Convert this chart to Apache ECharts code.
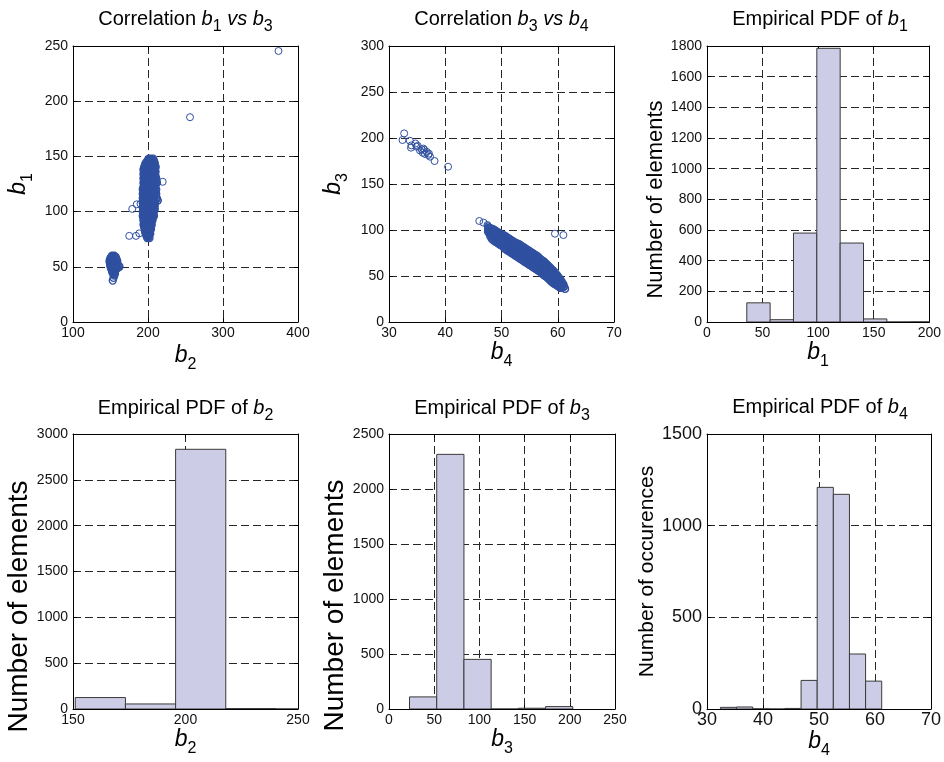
<!DOCTYPE html>
<html><head><meta charset="utf-8">
<script src="https://cdn.jsdelivr.net/npm/echarts@6/dist/echarts.min.js"></script>
<style>html,body{margin:0;padding:0;background:#fff}#c{width:944px;height:762px}</style>
</head><body><div id="c"></div>
<script>
// ---------- tick labels ----------
const ticksP1x = [100, 200, 300, 400];
const ticksP1y = [0, 50, 100, 150, 200, 250];
const ticksP2x = [30, 40, 50, 60, 70];
const ticksP2y = [0, 50, 100, 150, 200, 250, 300];
const ticksP3x = [0, 50, 100, 150, 200];
const ticksP3y = [0, 200, 400, 600, 800, 1000, 1200, 1400, 1600, 1800];
const ticksP4x = [150, 200, 250];
const ticksP4y = [0, 500, 1000, 1500, 2000, 2500, 3000];
const ticksP5x = [0, 50, 100, 150, 200, 250];
const ticksP5y = [0, 500, 1000, 1500, 2000, 2500];
const ticksP6x = [30, 40, 50, 60, 70];
const ticksP6y = [0, 500, 1000, 1500];

// ---------- scatter b2 (x) vs b1 (y): rows [b1, [b2 values]] ----------
const b1b2CoreRows = [
  [148, [201, 204, 207]],
  [146, [199, 202, 205, 208]],
  [144, [197, 200, 203, 206, 209]],
  [142, [196, 199, 202, 205, 208]],
  [140, [195, 198, 201, 204, 207, 210]],
  [138, [194, 197, 200, 203, 206, 209]],
  [136, [195, 198, 201, 204, 207, 210]],
  [134, [194, 197, 200, 203, 206, 209]],
  [132, [195, 198, 201, 204, 207, 210]],
  [130, [194, 197, 200, 203, 206, 209, 211]],
  [128, [195, 198, 201, 204, 207, 210]],
  [126, [194, 197, 200, 203, 206, 209, 212]],
  [124, [195, 198, 201, 204, 207, 210]],
  [122, [194, 197, 200, 203, 206, 209]],
  [120, [193, 196, 199, 202, 205, 208, 211]],
  [118, [194, 197, 200, 203, 206, 209]],
  [116, [193, 196, 199, 202, 205, 208, 211]],
  [114, [194, 197, 200, 203, 206, 209]],
  [112, [193, 196, 199, 202, 205, 208, 212]],
  [110, [194, 197, 200, 203, 206, 209, 213]],
  [108, [193, 196, 199, 202, 205, 208]],
  [106, [194, 197, 200, 203, 206, 209]],
  [104, [193, 196, 199, 202, 205, 208]],
  [102, [194, 197, 200, 203, 206, 209]],
  [100, [193, 196, 199, 202, 205, 208]],
  [98, [194, 197, 200, 203, 206]],
  [96, [193, 196, 199, 202, 205, 208]],
  [94, [194, 197, 200, 203, 206]],
  [92, [194, 197, 200, 203, 206]],
  [90, [195, 198, 201, 204]],
  [88, [194, 197, 200, 203, 205]],
  [86, [195, 198, 201, 204]],
  [84, [196, 199, 202, 204]],
  [82, [196, 199, 202]],
  [80, [197, 200, 203]],
  [78, [198, 201]],
  [76, [199, 202]]
];
const b1b2CoreRowsB = [
  [147, [200.5, 203.5, 206.5]],
  [145, [198.5, 201.5, 204.5, 207.5]],
  [143, [196.5, 199.5, 202.5, 205.5, 208.5]],
  [141, [195.5, 198.5, 201.5, 204.5, 207.5, 210]],
  [139, [194.5, 197.5, 200.5, 203.5, 206.5, 209.5]],
  [137, [194.5, 197.5, 200.5, 203.5, 206.5, 209.5]],
  [135, [194.5, 197.5, 200.5, 203.5, 206.5, 209.5]],
  [133, [194.5, 197.5, 200.5, 203.5, 206.5, 209.5]],
  [131, [194.5, 197.5, 200.5, 203.5, 206.5, 209.5]],
  [129, [194.5, 197.5, 200.5, 203.5, 206.5, 209.5]],
  [127, [194.5, 197.5, 200.5, 203.5, 206.5, 209.5, 211.5]],
  [125, [194.5, 197.5, 200.5, 203.5, 206.5, 209.5]],
  [123, [194.5, 197.5, 200.5, 203.5, 206.5, 209.5]],
  [121, [193.5, 196.5, 199.5, 202.5, 205.5, 208.5]],
  [119, [193.5, 196.5, 199.5, 202.5, 205.5, 208.5, 210.5]],
  [117, [193.5, 196.5, 199.5, 202.5, 205.5, 208.5]],
  [115, [193.5, 196.5, 199.5, 202.5, 205.5, 208.5, 210.5]],
  [113, [193.5, 196.5, 199.5, 202.5, 205.5, 208.5]],
  [111, [193.5, 196.5, 199.5, 202.5, 205.5, 208.5, 211]],
  [109, [193.5, 196.5, 199.5, 202.5, 205.5, 208.5]],
  [107, [193.5, 196.5, 199.5, 202.5, 205.5, 208.5]],
  [105, [193.5, 196.5, 199.5, 202.5, 205.5, 208.5]],
  [103, [193.5, 196.5, 199.5, 202.5, 205.5, 208.5]],
  [101, [193.5, 196.5, 199.5, 202.5, 205.5, 208]],
  [99, [193.5, 196.5, 199.5, 202.5, 205.5]],
  [97, [193.5, 196.5, 199.5, 202.5, 205.5, 207]],
  [95, [194.5, 197.5, 200.5, 203.5, 206]],
  [93, [194.5, 197.5, 200.5, 203.5, 205.5]],
  [91, [194.5, 197.5, 200.5, 203.5, 205]],
  [89, [194.5, 197.5, 200.5, 203.5]],
  [87, [195.5, 198.5, 201.5, 204]],
  [85, [195.5, 198.5, 201.5, 203.5]],
  [83, [196.5, 199.5, 202.5]],
  [81, [197, 200, 202.5]],
  [79, [198, 200.5, 202]],
  [77, [199.5, 201]]
];
const b1b2LowRows = [
  [60, [152, 155]],
  [59, [151, 154, 157]],
  [58, [150, 153, 156]],
  [57, [150, 153, 156, 158]],
  [56, [149, 152, 155, 158]],
  [55, [149, 151, 153, 156, 159]],
  [54, [149, 151, 154, 157]],
  [53, [150, 153, 156, 159]],
  [52, [150, 152, 155, 158]],
  [51, [150, 153, 156, 159, 161]],
  [50, [150, 153, 156, 159, 162]],
  [49, [151, 154, 157, 160]],
  [48, [151, 154, 157]],
  [47, [152, 155, 157]],
  [46, [152, 155]],
  [45, [153, 155]],
  [44, [153, 156]],
  [43, [155]],
  [42, [155]],
  [40, [154]],
  [37.5, [153]]
];
const b1b2Outliers = [[219.6, 127], [213, 110], [179, 102.4], [185, 106.6], [190, 107],
  [175, 78], [184, 78], [188.4, 80.3], [256, 185.5], [374, 245.5]];

// ---------- scatter b4 (x) vs b3 (y): band rows [b4, [b3 values]] ----------
const b3b4BandRows = [
  [47.6, [104, 101, 98]],
  [48.0, [102, 99, 96, 93]],
  [48.5, [101, 98, 95, 92, 89]],
  [49.0, [99, 96, 93, 90, 87]],
  [49.5, [97, 94, 91, 88, 85]],
  [50.0, [95, 92, 89, 86, 83]],
  [50.5, [94, 91, 88, 85, 83, 80]],
  [51.0, [92, 89, 86, 83, 81, 78]],
  [51.5, [90, 87, 84, 81, 79, 76]],
  [52.0, [88, 85, 82, 79, 77, 74]],
  [52.5, [86, 83, 80, 77, 75, 72]],
  [53.0, [85, 82, 79, 76, 73, 70]],
  [53.5, [83, 80, 77, 74, 71, 68]],
  [54.0, [81, 78, 75, 72, 69, 66]],
  [54.5, [79, 76, 73, 70, 67, 64]],
  [55.0, [77, 74, 71, 68, 65, 62]],
  [55.5, [75, 72, 69, 66, 63, 60]],
  [56.0, [73, 70, 67, 64, 61, 58]],
  [56.5, [71, 68, 65, 62, 59, 56]],
  [57.0, [68, 65, 62, 59, 57, 54]],
  [57.5, [66, 63, 60, 57, 54, 51]],
  [58.0, [63, 60, 57, 54, 52, 49]],
  [58.5, [60, 57, 54, 51, 49, 46]],
  [59.0, [57, 54, 51, 48, 46, 43]],
  [59.5, [54, 51, 48, 45, 43, 41]],
  [60.0, [50, 47, 44, 42, 39]],
  [60.5, [46, 43, 40, 37]],
  [61.0, [41, 38]],
  [61.3, [36]]
];
const b3b4BandRowsB = [
  [47.8, [102.5, 99.5, 96.5]],
  [48.25, [101.5, 98.5, 95.5, 93, 90.5]],
  [48.75, [100, 97, 94, 91, 88]],
  [49.25, [98, 95, 92, 89, 86]],
  [49.75, [96, 93, 90, 87, 84]],
  [50.25, [94.5, 91.5, 88.5, 85.5, 82.5]],
  [50.75, [93, 90, 87, 84, 82, 79]],
  [51.25, [91, 88, 85, 82, 80, 77]],
  [51.75, [89, 86, 83, 80, 78, 75]],
  [52.25, [87, 84, 81, 78, 76, 73]],
  [52.75, [85.5, 82.5, 79.5, 76.5, 74, 71]],
  [53.25, [84, 81, 78, 75, 72, 69]],
  [53.75, [82, 79, 76, 73, 70, 67]],
  [54.25, [80, 77, 74, 71, 68, 65]],
  [54.75, [78, 75, 72, 69, 66, 63]],
  [55.25, [76, 73, 70, 67, 64, 61]],
  [55.75, [74, 71, 68, 65, 62, 59]],
  [56.25, [72, 69, 66, 63, 60, 57]],
  [56.75, [69.5, 66.5, 63.5, 60.5, 58, 55]],
  [57.25, [67, 64, 61, 58, 55.5, 52.5]],
  [57.75, [64.5, 61.5, 58.5, 55.5, 53, 50]],
  [58.25, [61.5, 58.5, 55.5, 52.5, 50.5, 47.5]],
  [58.75, [58.5, 55.5, 52.5, 49.5, 47.5, 44.5]],
  [59.25, [55.5, 52.5, 49.5, 46.5, 44.5, 42]],
  [59.75, [52, 49, 46, 43.5, 40.5]],
  [60.25, [48, 45, 42, 40, 38]],
  [60.75, [43.5, 40.5, 38]],
  [61.15, [38.5]]
];
const b3b4Upper = [[32.7, 205], [32.4, 197.8], [33.7, 197], [34.0, 192], [33.9, 189.5], [34.7, 194],
  [34.9, 190.5], [35.1, 191.5], [35.5, 186.5], [35.8, 187.7], [36.1, 188.5], [36.0, 184], [36.3, 187],
  [36.7, 185], [37.0, 181.5], [36.4, 182.6], [37.1, 183], [37.3, 179.7], [38.1, 175], [40.5, 168.8]];
const b3b4Outliers = [[46.05, 109.8], [46.8, 108], [47.5, 105.4], [59.5, 96], [61.0, 94.5], [60.7, 39], [61.3, 35.9]];

// ---------- histograms ----------
const b1Edges = [35.8, 56.8, 77.8, 98.8, 119.8, 140.8, 161.8, 182.8, 203.8, 224.8, 245.8];
const b1Counts = [125, 15, 580, 1785, 515, 20, 0, 1, 0, 1];
const b2Edges = [151, 173.3, 195.6, 217.9, 240.2, 262.5, 284.8, 307.1, 329.4, 351.7, 374];
const b2Counts = [125, 55, 2833, 5, 1, 0, 0, 0, 0, 1];
const b3Edges = [22.7, 52.8, 82.9, 113, 143.1, 173.2, 203.3];
const b3Counts = [110, 2315, 451, 0, 7, 22];
const b4Edges = [32.4, 35.28, 38.16, 41.04, 43.92, 46.8, 49.68, 52.56, 55.44, 58.32, 61.2];
const b4Counts = [9, 11, 1, 0, 3, 156, 1209, 1171, 300, 152];

// ---------- helpers ----------
const F = '"Liberation Sans", Arial, Helvetica, sans-serif';
const SC = '#3050a0';
const FILL = '#ccccE6';
const EDGE = '#3a3a3a';

const rowsYX = rows => rows.flatMap(r => r[1].map(x => [x, r[0]]));
const rowsXY = rows => rows.flatMap(r => r[1].map(y => [r[0], y]));

function richSet(main, sub, pad) {
  return {
    n: {fontFamily: F, fontSize: main, color: '#000', lineHeight: main + 3, verticalAlign: 'top'},
    i: {fontFamily: F, fontSize: main, fontStyle: 'italic', color: '#000', lineHeight: main + 3, verticalAlign: 'top'},
    s: {fontFamily: F, fontSize: sub, color: '#000', lineHeight: sub + 2, padding: [pad, 0, 0, 0], verticalAlign: 'top'}
  };
}

const plots = [
  {grid: {left: 73, top: 46, width: 225, height: 276}, xt: ticksP1x, yt: ticksP1y, fs: 14,
   title: '{n|Correlation }{i|b}{s|1}{i| vs b}{s|3}', ty: 9,
   xName: '{i|b}{s|2}', xGap: 22, yName: '{i|b}{s|1}', yRich: true, yGap: 40, yFs: 23, yPad: 0},
  {grid: {left: 389, top: 46, width: 225, height: 276}, xt: ticksP2x, yt: ticksP2y, fs: 14,
   title: '{n|Correlation }{i|b}{s|3}{i| vs b}{s|4}', ty: 9,
   xName: '{i|b}{s|4}', xGap: 18, yName: '{i|b}{s|3}', yRich: true, yGap: 41, yFs: 23, yPad: 0},
  {grid: {left: 707, top: 46, width: 226, height: 276}, xt: ticksP3x, yt: ticksP3y, fs: 14,
   title: '{n|Empirical PDF of }{i|b}{s|1}', ty: 9,
   xName: '{i|b}{s|1}', xGap: 18, yName: 'Number of elements', yRich: false, yGap: 34, yFs: 22, yPad: 31},
  {grid: {left: 73, top: 434, width: 225, height: 275}, xt: ticksP4x, yt: ticksP4y, fs: 14,
   title: '{n|Empirical PDF of }{i|b}{s|2}', ty: 398,
   xName: '{i|b}{s|2}', xGap: 18, yName: 'Number of elements', yRich: false, yGap: 32, yFs: 28, yPad: 70},
  {grid: {left: 389, top: 434, width: 226, height: 275}, xt: ticksP5x, yt: ticksP5y, fs: 14,
   title: '{n|Empirical PDF of }{i|b}{s|3}', ty: 398,
   xName: '{i|b}{s|3}', xGap: 18, yName: 'Number of elements', yRich: false, yGap: 30, yFs: 28, yPad: 68},
  {grid: {left: 707, top: 434, width: 226, height: 275}, xt: ticksP6x, yt: ticksP6y, fs: 18,
   title: '{n|Empirical PDF of }{i|b}{s|4}', ty: 397,
   xName: '{i|b}{s|4}', xGap: 16, yName: 'Number of occurences', yRich: false, yGap: 47, yFs: 21, yPad: 0}
];

const splitLine = {show: true, lineStyle: {type: [8, 4], color: '#262626', width: 1}};
const tickStyle = {show: true, inside: true, length: 4, lineStyle: {color: '#000', width: 1}};
const lineStyle = {show: true, onZero: false, lineStyle: {color: '#000', width: 1}};
const plain = v => String(v);

const grids = [], xAxes = [], yAxes = [], titles = [];
plots.forEach((p, i) => {
  grids.push(Object.assign({containLabel: false}, p.grid));
  titles.push({
    text: p.title, left: p.grid.left + p.grid.width / 2, top: p.ty, textAlign: 'center', padding: 0,
    textStyle: {fontFamily: F, fontSize: 20, fontWeight: 'normal', color: '#000', rich: richSet(20, 16, 10)}
  });
  const nameStyleX = {fontFamily: F, fontSize: 23, color: '#000', rich: richSet(23, 16, 13)};
  xAxes.push({
    type: 'value', gridIndex: i, position: 'bottom',
    min: p.xt[0], max: p.xt[p.xt.length - 1], interval: p.xt[1] - p.xt[0],
    axisLine: lineStyle, axisTick: tickStyle, splitLine: splitLine,
    axisLabel: {show: true, margin: p.fs > 14 ? 2 : 4, fontFamily: F, fontSize: p.fs, color: '#111',
      formatter: plain, showMinLabel: true, showMaxLabel: true},
    name: p.xName, nameLocation: 'middle', nameGap: p.xGap, nameTextStyle: nameStyleX
  });
  const yNameStyle = p.yRich
    ? {fontFamily: F, fontSize: p.yFs, color: '#000', rich: richSet(p.yFs, 16, 13)}
    : {fontFamily: F, fontSize: p.yFs, color: '#000', padding: [0, p.yPad, 0, 0]};
  yAxes.push({
    type: 'value', gridIndex: i, position: 'left',
    min: p.yt[0], max: p.yt[p.yt.length - 1], interval: p.yt[1] - p.yt[0],
    axisLine: lineStyle, axisTick: tickStyle, splitLine: splitLine,
    axisLabel: {show: true, margin: 5, fontFamily: F, fontSize: p.fs, color: '#111',
      formatter: plain, showMinLabel: true, showMaxLabel: true},
    name: p.yName, nameLocation: 'middle', nameRotate: 90, nameGap: p.yGap, nameTextStyle: yNameStyle
  });
});
// mirrored top / right axes (box + inward ticks)
plots.forEach((p, i) => {
  xAxes.push({
    type: 'value', gridIndex: i, position: 'top',
    min: p.xt[0], max: p.xt[p.xt.length - 1], interval: p.xt[1] - p.xt[0],
    axisLine: lineStyle, axisTick: tickStyle, splitLine: {show: false}, axisLabel: {show: false}
  });
  yAxes.push({
    type: 'value', gridIndex: i, position: 'right',
    min: p.yt[0], max: p.yt[p.yt.length - 1], interval: p.yt[1] - p.yt[0],
    axisLine: lineStyle, axisTick: tickStyle, splitLine: {show: false}, axisLabel: {show: false}
  });
});

function scatterSeries(idx, data, bw) {
  return {
    type: 'scatter', xAxisIndex: idx, yAxisIndex: idx, data: data, symbol: 'circle', symbolSize: 7,
    itemStyle: {color: 'rgba(0,0,0,0)', borderColor: SC, borderWidth: bw, opacity: 1},
    emphasis: {disabled: true}, silent: true, large: false, clip: true
  };
}
function histSeries(idx, edges, counts) {
  const data = counts.map((c, k) => [edges[k], edges[k + 1], c]);
  return {
    type: 'custom', xAxisIndex: idx, yAxisIndex: idx, data: data, clip: true, silent: true,
    encode: {x: [0, 1], y: 2},
    renderItem: function (params, api) {
      const p0 = api.coord([api.value(0), api.value(2)]);
      const p1 = api.coord([api.value(1), 0]);
      const cs = params.coordSys;
      const shape = echarts.graphic.clipRectByRect(
        {x: p0[0], y: p0[1], width: p1[0] - p0[0], height: p1[1] - p0[1]},
        {x: cs.x, y: cs.y, width: cs.width, height: cs.height});
      return shape && {type: 'rect', shape: shape, style: {fill: FILL, stroke: EDGE, lineWidth: 1}};
    }
  };
}

const series = [
  scatterSeries(0, rowsYX(b1b2CoreRows).concat(rowsYX(b1b2CoreRowsB), rowsYX(b1b2LowRows)), 1.3),
  scatterSeries(0, b1b2Outliers, 1),
  scatterSeries(1, rowsXY(b3b4BandRows).concat(rowsXY(b3b4BandRowsB)), 1.3),
  scatterSeries(1, b3b4Upper.concat(b3b4Outliers), 1),
  histSeries(2, b1Edges, b1Counts),
  histSeries(3, b2Edges, b2Counts),
  histSeries(4, b3Edges, b3Counts),
  histSeries(5, b4Edges, b4Counts)
];

const chart = echarts.init(document.getElementById('c'), null, {renderer: 'canvas'});
chart.setOption({
  animation: false,
  backgroundColor: '#fff',
  title: titles,
  grid: grids,
  xAxis: xAxes,
  yAxis: yAxes,
  series: series
});
</script>
</body></html>
